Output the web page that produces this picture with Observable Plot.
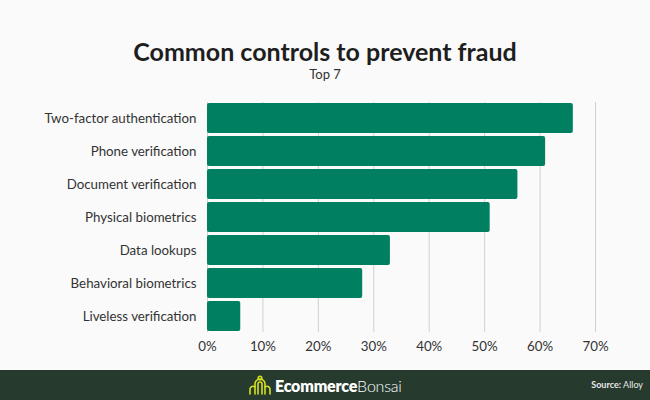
<!DOCTYPE html>
<html>
<head>
<meta charset="utf-8">
<script src="https://cdn.jsdelivr.net/npm/d3@7"></script>
<script src="https://cdn.jsdelivr.net/npm/@observablehq/plot@0.6"></script>
<style>
  html, body { margin: 0; padding: 0; background: #fafafa; }
  #wrap { position: relative; width: 650px; height: 400px; background: #fafafa; font-family: Lato, "Open Sans", sans-serif; overflow: hidden; }
  #title { position: absolute; top: 36px; left: 0; width: 650px; text-align: center; font-size: 25px; font-weight: 700; color: #1e1e1e; }
  #subtitle { position: absolute; top: 66px; left: 0; width: 650px; text-align: center; font-size: 13px; color: #333; }
  #chart { position: absolute; top: 90px; left: 0; }
  #footer { position: absolute; left: 0; top: 370px; width: 650px; height: 30px; background: #263a2e; }
  #logo { position: absolute; left: 249px; top: 4px; height: 22px; display: flex; align-items: center; }
  #logo .name { color: #fff; font-size: 16px; margin-left: 4px; letter-spacing: -0.2px; }
  #logo .name b { font-weight: 800; }
  #logo .name span { font-weight: 300; }
  #source { position: absolute; right: 7px; top: 9px; color: #e8e8e8; font-size: 9px; }
</style>
</head>
<body>
<div id="wrap">
  <div id="title">Common controls to prevent fraud</div>
  <div id="subtitle">Top 7</div>
  <div id="chart"></div>
  <div id="footer">
    <div id="logo">
      <svg width="22" height="20" viewBox="0 0 22 20">
        <g fill="none" stroke="#d4e021" stroke-width="1.6" stroke-linecap="round">
          <path d="M6 19 V9 a5 5 0 0 1 10 0 V19"/>
          <path d="M9 19 V9 a2 2 0 0 1 4 0 V19"/>
          <path d="M1 19 V14 a3 3 0 0 1 5 -2"/>
          <path d="M21 19 V14 a3 3 0 0 0 -5 -2"/>
          <circle cx="11" cy="3" r="1.8"/>
        </g>
      </svg>
      <div class="name"><b>Ecommerce</b><span>Bonsai</span></div>
    </div>
    <div id="source"><b>Source:</b> Alloy</div>
  </div>
</div>
<script>
const categories = ["Two-factor authentication", "Phone verification", "Document verification", "Physical biometrics", "Data lookups", "Behavioral biometrics", "Liveless verification"];
const values = [66, 61, 56, 51, 33, 28, 6];
const xTicks = [0, 10, 20, 30, 40, 50, 60, 70];

const data = categories.map((c, i) => ({category: c, value: values[i]}));

const chart = Plot.plot({
  width: 650,
  height: 280,
  marginTop: 12,
  marginBottom: 38,
  marginLeft: 207,
  marginRight: 55,
  style: {background: "transparent", fontFamily: "Lato, 'Open Sans', sans-serif", fontSize: "13.3px", color: "#333"},
  x: {domain: [0, 70], ticks: xTicks, tickFormat: d => d + "%", label: null, tickSize: 0, tickPadding: 9},
  y: {domain: categories, label: null, tickSize: 0, tickPadding: 11, padding: 0.1, paddingOuter: 0},
  marks: [
    Plot.gridX(xTicks, {stroke: "#d0d0d0", strokeOpacity: 1}),
    Plot.barX(data, {x: "value", y: "category", fill: "#008060", rx: 2})
  ]
});
document.getElementById("chart").appendChild(chart);
</script>
</body>
</html>
